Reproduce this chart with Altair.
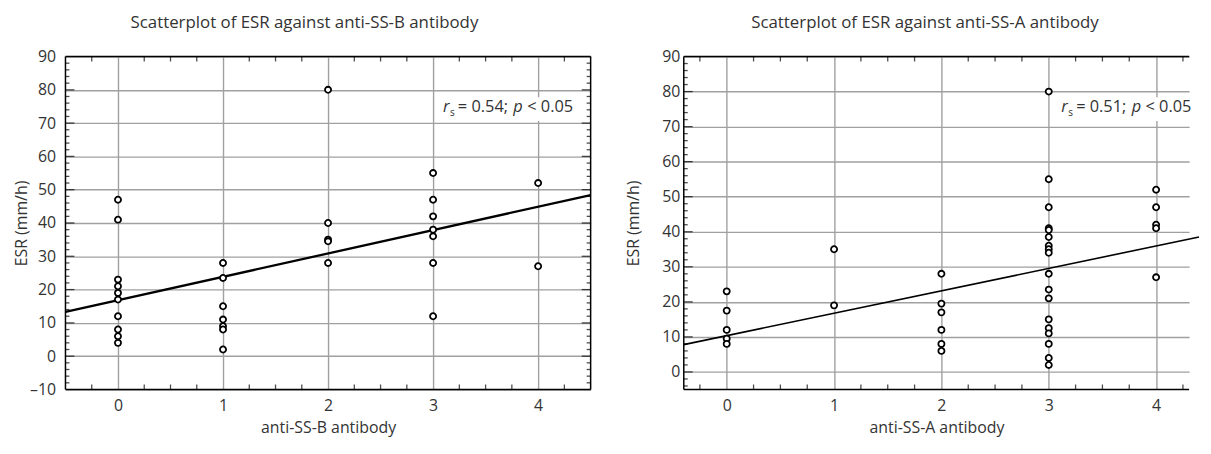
import altair as alt
import pandas as pd

# ---------------- data ----------------
# Left panel: ESR against anti-SS-B antibody
ssb_x = [0, 0, 0, 0, 0, 0, 0, 0, 0, 0,
         1, 1, 1, 1, 1, 1, 1,
         2, 2, 2, 2, 2,
         3, 3, 3, 3, 3, 3, 3,
         4, 4]
ssb_esr = [47, 41, 23, 21, 19, 17, 12, 8, 6, 4,
           28, 23.5, 15, 11, 9, 8, 2,
           80, 40, 35, 34.5, 28,
           55, 47, 42, 38, 36, 28, 12,
           52, 27]
ssb_fit_x = [-0.5, 4.5]
ssb_fit_y = [13.3, 48.4]

# Right panel: ESR against anti-SS-A antibody
ssa_x = [0, 0, 0, 0, 0,
         1, 1,
         2, 2, 2, 2, 2, 2,
         3, 3, 3, 3, 3, 3, 3, 3, 3, 3, 3, 3, 3, 3, 3, 3, 3, 3,
         4, 4, 4, 4, 4]
ssa_esr = [23, 17.5, 12, 9.5, 8,
           35, 19,
           28, 19.5, 17, 12, 8, 6,
           80, 55, 47, 41, 40.5, 38.5, 36, 35, 34, 28, 23.5, 21, 15, 12.5, 11, 8, 4, 2,
           52, 47, 42, 41, 27]
ssa_fit_x = [-0.4, 4.4]
ssa_fit_y = [7.8, 38.5]

titles = ["Scatterplot of ESR against anti-SS-B antibody",
          "Scatterplot of ESR against anti-SS-A antibody"]
x_titles = ["anti-SS-B antibody", "anti-SS-A antibody"]
y_title = "ESR (mm/h)"
notes = [["r", "s", "= 0.54;", "p", "< 0.05"],
         ["r", "s", "= 0.51;", "p", "< 0.05"]]

x_major = [0, 1, 2, 3, 4]
x_minor = [-0.25, 0.25, 0.5, 0.75, 1.25, 1.5, 1.75, 2.25, 2.5, 2.75,
           3.25, 3.5, 3.75, 4.25]
ssb_y_labels = [-10, 0, 10, 20, 30, 40, 50, 60, 70, 80, 90]
ssa_y_labels = [0, 10, 20, 30, 40, 50, 60, 70, 80, 90]
ssb_y_minor = [v for v in range(-8, 90, 2) if v % 10 != 0]
ssa_y_minor = [v for v in range(-4, 90, 2) if v % 10 != 0]

FONT = "Open Sans"
TXT = "#333333"
GRID = "#a0a0a0"
H = 336
W_L = 530
W_R = 510
PX_PER_UNIT_R = 520 / 4.8
R_XMAX = -0.4 + W_R / PX_PER_UNIT_R


def panel(xv, yv, fx, fy, xdom, ydom, ylabels, yminor, title, xtitle, note,
          label_pad, title_pad, line_w, width, right_side, title_dx, nx):
    pts = pd.DataFrame({"x": xv, "y": yv})
    fit = pd.DataFrame({"x": fx, "y": fy})
    nd = pd.DataFrame({"r": [note[0]], "s": [note[1]], "v": [note[2]],
                       "p": [note[3]], "q": [note[4]]})
    ymajor = [v for v in ylabels if ydom[0] < v < ydom[1]]
    xt = pd.DataFrame({"x": [v for v in x_minor if xdom[0] < v < xdom[1]]})
    yt_major = pd.DataFrame({"y": ymajor})
    yt_minor = pd.DataFrame({"y": yminor})

    xs = alt.Scale(domain=xdom, nice=False, zero=False)
    ys = alt.Scale(domain=ydom, nice=False, zero=False)

    main_x = alt.Axis(orient="bottom", values=x_major, format="d", grid=True,
                      gridColor=GRID, gridWidth=1.4, ticks=False, domain=False,
                      labelPadding=8, labelFontSize=16, labelColor=TXT,
                      labelFont=FONT,
                      title=xtitle, titlePadding=6, titleFontSize=16,
                      titleFontWeight="normal", titleColor=TXT, titleFont=FONT)
    main_y = alt.Axis(orient="left", values=ylabels, format="d", grid=True,
                      gridColor=GRID, gridWidth=1.4, ticks=False, domain=False,
                      labelPadding=label_pad, labelFontSize=16, labelColor=TXT,
                      labelFont=FONT,
                      labelExpr="replace(datum.label, '\u2212', '\u2013')",
                      title=y_title, titlePadding=title_pad, titleFontSize=16,
                      titleFontWeight="normal", titleColor=TXT, titleFont=FONT)

    X0 = alt.X("x:Q", scale=xs, axis=None)
    Y0 = alt.Y("y:Q", scale=ys, axis=None)

    layers = [
        alt.Chart(pts).mark_point(opacity=0).encode(
            x=alt.X("x:Q", scale=xs, axis=main_x),
            y=alt.Y("y:Q", scale=ys, axis=main_y)),
        # inward tick marks
        alt.Chart(xt).mark_tick(orient="vertical", color="black", size=5,
                                thickness=1.3).encode(x=X0, y=alt.value(2.5)),
        alt.Chart(xt).mark_tick(orient="vertical", color="black", size=5,
                                thickness=1.3).encode(x=X0, y=alt.value(H - 2.5)),
        alt.Chart(yt_major).mark_tick(orient="horizontal", color="black", size=9,
                                      thickness=1.3).encode(x=alt.value(4.5), y=Y0),
        alt.Chart(yt_minor).mark_tick(orient="horizontal", color="black", size=4,
                                      thickness=1.3).encode(x=alt.value(2), y=Y0),
    ]
    if right_side:
        layers += [
            alt.Chart(yt_major).mark_tick(orient="horizontal", color="black", size=9,
                                          thickness=1.3).encode(x=alt.value(width - 4.5), y=Y0),
            alt.Chart(yt_minor).mark_tick(orient="horizontal", color="black", size=4,
                                          thickness=1.3).encode(x=alt.value(width - 2), y=Y0),
        ]
    # frame
    frame = [
        alt.Chart(nd).mark_rule(color="black", strokeWidth=1.5).encode(
            x=alt.value(0), x2=alt.value(width), y=alt.value(0)),
        alt.Chart(nd).mark_rule(color="black", strokeWidth=1.5).encode(
            x=alt.value(0), x2=alt.value(width), y=alt.value(H)),
        alt.Chart(nd).mark_rule(color="black", strokeWidth=1.5).encode(
            x=alt.value(0), y=alt.value(0), y2=alt.value(H)),
    ]
    if right_side:
        frame.append(alt.Chart(nd).mark_rule(color="black", strokeWidth=1.5).encode(
            x=alt.value(width), y=alt.value(0), y2=alt.value(H)))
    layers += frame

    layers += [
        alt.Chart(nd).mark_rect(fill="white").encode(
            x=alt.value(nx - 5), x2=alt.value(min(nx + 140, width - 1)),
            y=alt.value(41), y2=alt.value(65)),
        alt.Chart(fit).mark_line(color="black", strokeWidth=line_w).encode(x=X0, y=Y0),
        alt.Chart(pts).mark_point(shape="circle", fill="white", stroke="black",
                                  strokeWidth=1.8, size=38, opacity=1,
                                  fillOpacity=1).encode(x=X0, y=Y0),
        alt.Chart(nd).mark_text(align="left", baseline="alphabetic", font=FONT,
                                fontSize=16.5, fontStyle="italic",
                                color=TXT).encode(
            x=alt.value(nx), y=alt.value(56), text="r:N"),
        alt.Chart(nd).mark_text(align="left", baseline="alphabetic", font=FONT,
                                fontSize=10, color=TXT).encode(
            x=alt.value(nx + 7), y=alt.value(60), text="s:N"),
        alt.Chart(nd).mark_text(align="left", baseline="alphabetic", font=FONT,
                                fontSize=16.5, color=TXT).encode(
            x=alt.value(nx + 15), y=alt.value(56), text="v:N"),
        alt.Chart(nd).mark_text(align="left", baseline="alphabetic", font=FONT,
                                fontSize=16.5, fontStyle="italic",
                                color=TXT).encode(
            x=alt.value(nx + 71), y=alt.value(56), text="p:N"),
        alt.Chart(nd).mark_text(align="left", baseline="alphabetic", font=FONT,
                                fontSize=16.5, color=TXT).encode(
            x=alt.value(nx + 85), y=alt.value(56), text="q:N"),
    ]
    return alt.layer(*layers).resolve_axis(x="independent", y="independent").properties(
        width=width, height=H,
        title=alt.TitleParams(title, font=FONT, fontSize=17, fontWeight="normal",
                              color=TXT, offset=17, frame="bounds",
                              anchor="middle", dx=title_dx))


left = panel(ssb_x, ssb_esr, ssb_fit_x, ssb_fit_y, [-0.5, 4.5], [-10, 90],
             ssb_y_labels, ssb_y_minor, titles[0], x_titles[0], notes[0],
             10, 0, 2.3, W_L, True, 0, 381)
right = panel(ssa_x, ssa_esr, ssa_fit_x, ssa_fit_y, [-0.4, R_XMAX], [-5, 90],
              ssa_y_labels, ssa_y_minor, titles[1], x_titles[1], notes[1],
              4, 20, 1.6, W_R, False, 11, 381)

chart = alt.hconcat(left, right, spacing=30).properties(
    padding={"left": 5, "top": 4, "right": 0, "bottom": 0}
).configure_view(strokeWidth=0)

chart.save("out.html", embed_options={"renderer": "svg", "actions": False})
